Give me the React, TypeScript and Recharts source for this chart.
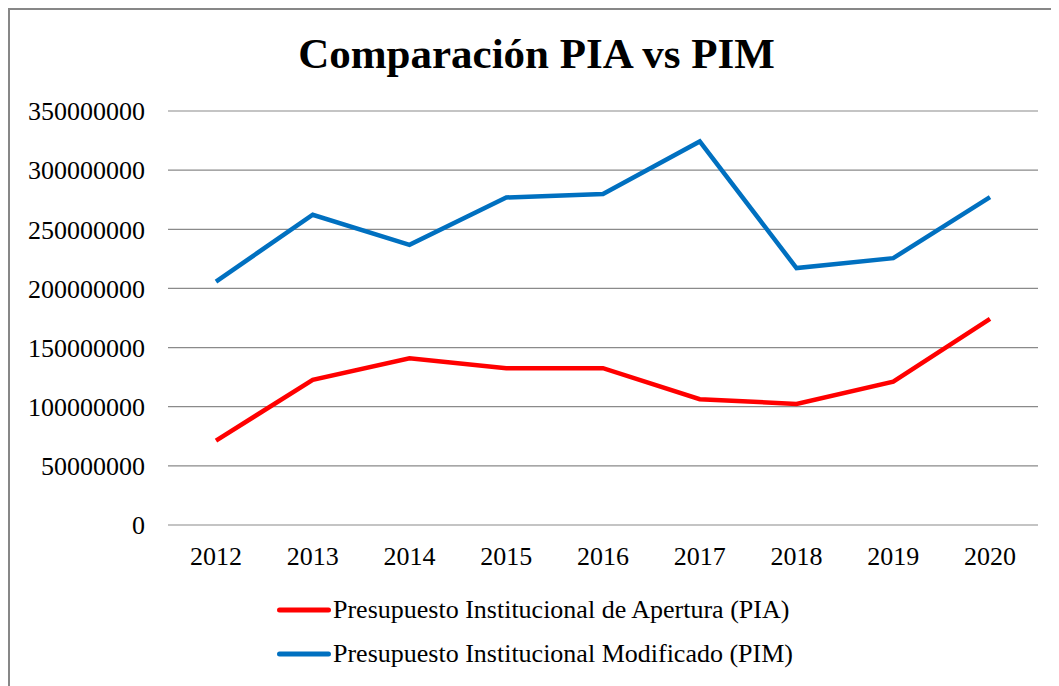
import React from "react";
import {
  LineChart,
  Line,
  XAxis,
  YAxis,
  CartesianGrid,
  Legend,
} from "recharts";

const years = ["2012", "2013", "2014", "2015", "2016", "2017", "2018", "2019", "2020"];
const piaValues = [71300000, 122700000, 141000000, 132600000, 132600000, 106300000, 102400000, 121200000, 174300000];
const pimValues = [205800000, 262300000, 236900000, 276900000, 279800000, 324300000, 217200000, 225600000, 277200000];
const yTicks = [0, 50000000, 100000000, 150000000, 200000000, 250000000, 300000000, 350000000];

const piaName = "Presupuesto Institucional de Apertura (PIA)";
const pimName = "Presupuesto Institucional Modificado (PIM)";

const data = years.map((year, i) => ({
  year,
  pia: piaValues[i],
  pim: pimValues[i],
}));

const serif = '"Liberation Serif", "Times New Roman", serif';

const renderLegend = (props: any) => {
  const { payload } = props;
  return (
    <div>
      {payload.map((entry: any) => (
        <div
          key={entry.value}
          style={{ display: "flex", alignItems: "center", height: 44 }}
        >
          <svg width={58} height={10}>
            <line
              x1={4.5}
              y1={5}
              x2={53.5}
              y2={5}
              stroke={entry.color}
              strokeWidth={5}
              strokeLinecap="round"
            />
          </svg>
          <span style={{ fontFamily: serif, fontSize: 26, color: "#000", whiteSpace: "nowrap" }}>
            {entry.value}
          </span>
        </div>
      ))}
    </div>
  );
};

export default function App() {
  return (
    <div
      style={{
        position: "relative",
        width: 1049,
        height: 676,
        borderTop: "2px solid #878787",
        borderLeft: "2px solid #878787",
        background: "#fff",
      }}
    >
      <div
        style={{
          position: "absolute",
          left: 0,
          top: 22,
          width: 1053,
          textAlign: "center",
          fontFamily: serif,
          fontWeight: "bold",
          fontSize: 43,
          lineHeight: "43px",
          color: "#000",
          zIndex: 1,
        }}
      >
        Comparación PIA vs PIM
      </div>
      <LineChart
        width={1049}
        height={676}
        data={data}
        margin={{ top: 101, right: 21, bottom: 131, left: 0 }}
      >
        <CartesianGrid vertical={false} stroke="#8a8a8a" strokeWidth={1.2} />
        <XAxis
          dataKey="year"
          height={30}
          padding={{ left: 48, right: 48 }}
          axisLine={false}
          tickLine={false}
          tickSize={0}
          tickMargin={22}
          interval={0}
          tick={{ fill: "#000", fontSize: 26, fontFamily: serif }}
        />
        <YAxis
          width={158}
          domain={[0, 350000000]}
          ticks={yTicks}
          axisLine={false}
          tickLine={false}
          tickSize={0}
          tickMargin={23}
          tick={{ fill: "#000", fontSize: 26, fontFamily: serif }}
        />
        <Line
          name={piaName}
          dataKey="pia"
          stroke="#ff0000"
          strokeWidth={4.5}
          dot={false}
          activeDot={false}
          type="linear"
          isAnimationActive={false}
        />
        <Line
          name={pimName}
          dataKey="pim"
          stroke="#0070c0"
          strokeWidth={4.5}
          dot={false}
          activeDot={false}
          type="linear"
          isAnimationActive={false}
        />
        <Legend
          layout="vertical"
          align="center"
          verticalAlign="middle"
          itemSorter="dataKey"
          content={renderLegend}
          wrapperStyle={{ position: "absolute", left: 265, top: 578, width: "auto" }}
        />
      </LineChart>
    </div>
  );
}
